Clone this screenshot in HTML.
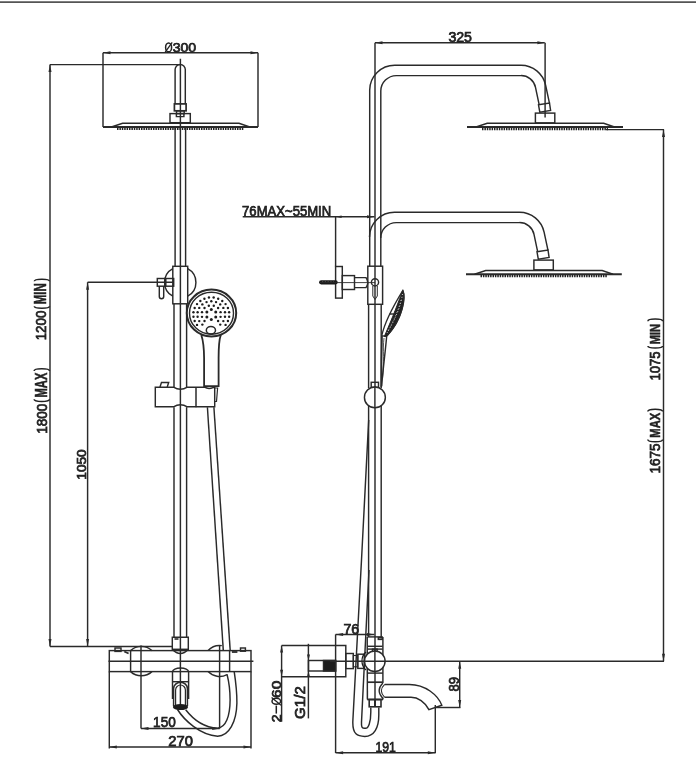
<!DOCTYPE html>
<html><head><meta charset="utf-8"><style>
html,body{margin:0;padding:0;background:#fff;}
svg{display:block;will-change:transform;}
text{font-family:"Liberation Sans",sans-serif;fill:#222;stroke:#222;stroke-width:0.75px;}
</style></head><body>
<svg width="696" height="774" viewBox="0 0 696 774">
<rect width="696" height="774" fill="#fff"/>
<line x1="0" y1="2.1" x2="696" y2="2.1" stroke="#555" stroke-width="1.6"/>
<line x1="103" y1="52.8" x2="103" y2="127" stroke="#2a2a2a" stroke-width="1.45"/>
<line x1="258" y1="52.8" x2="258" y2="127" stroke="#2a2a2a" stroke-width="1.45"/>
<line x1="103" y1="52.8" x2="258" y2="52.8" stroke="#2a2a2a" stroke-width="1.45"/>
<path d="M103.00,52.80 L110.50,51.30 L110.50,54.30 Z" fill="#2a2a2a" stroke="none"/>
<path d="M258.00,52.80 L250.50,54.30 L250.50,51.30 Z" fill="#2a2a2a" stroke="none"/>
<text x="172.70000000000002" y="51.949999999999996" font-size="13.41" textLength="23.499999999999982" lengthAdjust="spacingAndGlyphs">300</text>
<ellipse cx="168.6" cy="47.4" rx="3.0" ry="4.4" stroke="#222" stroke-width="1.5" fill="none"/>
<line x1="165.2" y1="52.2" x2="172.2" y2="42.4" stroke="#222" stroke-width="1.3"/>
<line x1="103" y1="127" x2="258" y2="127" stroke="#2a2a2a" stroke-width="2.0"/>
<path d="M111.4,127 L122.6,123.3 L239,123.3 L249.8,127" stroke="#2a2a2a" stroke-width="1.45" fill="none" />
<line x1="117" y1="128.9" x2="243.4" y2="128.9" stroke="#222" stroke-width="2.4" stroke-dasharray="1.5,0.9"/>
<path d="M175.1,104 L175.1,69.6 A5.1,5.1 0 0 1 185.3,69.6 L185.3,104" stroke="#2a2a2a" stroke-width="1.45" fill="none" />
<rect x="174.4" y="103.9" width="11.699999999999989" height="6.8999999999999915" stroke="#2a2a2a" stroke-width="1.7" fill="none"/>
<rect x="176.5" y="110.8" width="7.699999999999989" height="2.799999999999997" stroke="#2a2a2a" stroke-width="1.45" fill="none"/>
<path d="M176.4,113.7 L176.4,116.6 L183.9,116.6 L183.9,113.7" stroke="#2a2a2a" stroke-width="1.45" fill="none" />
<rect x="170" y="113.6" width="20.30000000000001" height="9.100000000000009" stroke="#2a2a2a" stroke-width="1.45" fill="none"/>
<line x1="180.4" y1="58.7" x2="180.4" y2="705" stroke="#2a2a2a" stroke-width="1.45"/>
<line x1="50" y1="64.6" x2="180" y2="64.6" stroke="#2a2a2a" stroke-width="1.45"/>
<line x1="50" y1="64.6" x2="50" y2="646.4" stroke="#2a2a2a" stroke-width="1.45"/>
<path d="M50.00,64.60 L51.50,72.10 L48.50,72.10 Z" fill="#2a2a2a" stroke="none"/>
<path d="M50.00,646.40 L48.50,638.90 L51.50,638.90 Z" fill="#2a2a2a" stroke="none"/>
<line x1="50" y1="646.5" x2="172.3" y2="646.5" stroke="#2a2a2a" stroke-width="1.45"/>
<text transform="translate(46.55,433.8) rotate(-90)" x="0" y="0" font-size="15.22" textLength="30.099999999999977" lengthAdjust="spacingAndGlyphs">1800</text>
<path d="M34.10,399.30 A7.70,2.25 0 0 0 49.50,399.30" stroke="#222" stroke-width="1.5" fill="none"/>
<text transform="translate(46.55,397.40000000000003) rotate(-90)" x="0" y="0" font-size="15.99" textLength="24.7" lengthAdjust="spacingAndGlyphs" style="stroke-width:0.5px;font-weight:bold">MAX</text>
<path d="M34.10,371.00 A7.70,2.15 0 0 1 49.50,371.00" stroke="#222" stroke-width="1.5" fill="none"/>
<text transform="translate(46.449999999999996,340.3) rotate(-90)" x="0" y="0" font-size="15.50" textLength="29.7" lengthAdjust="spacingAndGlyphs">1200</text>
<path d="M34.30,306.20 A7.60,1.95 0 0 0 49.50,306.20" stroke="#222" stroke-width="1.5" fill="none"/>
<text transform="translate(46.449999999999996,304.3) rotate(-90)" x="0" y="0" font-size="16.28" textLength="21.099999999999977" lengthAdjust="spacingAndGlyphs" style="stroke-width:0.5px;font-weight:bold">MIN</text>
<path d="M34.30,281.30 A7.60,2.15 0 0 1 49.50,281.30" stroke="#222" stroke-width="1.5" fill="none"/>
<line x1="87.6" y1="282.3" x2="173.5" y2="282.3" stroke="#2a2a2a" stroke-width="1.45"/>
<line x1="87.6" y1="282.2" x2="87.6" y2="646.4" stroke="#2a2a2a" stroke-width="1.45"/>
<path d="M87.60,282.20 L89.10,289.70 L86.10,289.70 Z" fill="#2a2a2a" stroke="none"/>
<path d="M87.60,646.40 L86.10,638.90 L89.10,638.90 Z" fill="#2a2a2a" stroke="none"/>
<text transform="translate(86.45,479.70000000000005) rotate(-90)" x="0" y="0" font-size="13.69" textLength="30.400000000000045" lengthAdjust="spacingAndGlyphs">1050</text>
<line x1="175.1" y1="127" x2="175.1" y2="266.4" stroke="#2a2a2a" stroke-width="1.45"/>
<line x1="185.6" y1="127" x2="185.6" y2="266.4" stroke="#2a2a2a" stroke-width="1.45"/>
<line x1="174.0" y1="304" x2="174.0" y2="387" stroke="#2a2a2a" stroke-width="1.45"/>
<line x1="174.0" y1="407.2" x2="174.0" y2="637.2" stroke="#2a2a2a" stroke-width="1.45"/>
<line x1="186.6" y1="304" x2="186.6" y2="387" stroke="#2a2a2a" stroke-width="1.45"/>
<line x1="186.6" y1="407.2" x2="186.6" y2="637.2" stroke="#2a2a2a" stroke-width="1.45"/>
<path d="M172.8,268.6 A15.7,15.7 0 0 0 172.8,296.2" stroke="#2a2a2a" stroke-width="1.45" fill="none" />
<path d="M187.7,268.6 A15.7,15.7 0 0 1 187.7,296.2" stroke="#2a2a2a" stroke-width="1.45" fill="none" />
<rect x="172.8" y="266.3" width="14.899999999999977" height="37.5" stroke="#2a2a2a" stroke-width="1.45" fill="none"/>
<rect x="157.3" y="278.5" width="8.099999999999994" height="7.699999999999989" stroke="#2a2a2a" stroke-width="1.45" fill="none"/>
<rect x="165.4" y="278.5" width="8.299999999999983" height="7.699999999999989" stroke="#2a2a2a" stroke-width="1.45" fill="none"/>
<line x1="165.4" y1="278.5" x2="165.4" y2="286.2" stroke="#2a2a2a" stroke-width="2.0"/>
<path d="M159.3,286.1 L159.3,296.5 A2.2,2.2 0 0 0 163.7,296.5 L163.7,286.1" stroke="#2a2a2a" stroke-width="1.45" fill="none" />
<ellipse cx="211.5" cy="313" rx="24.7" ry="23.4" stroke="#2a2a2a" stroke-width="2.0" fill="#fff"/>
<ellipse cx="211.5" cy="313.2" rx="22.0" ry="21.0" stroke="#2a2a2a" stroke-width="1.4" fill="none"/>
<circle cx="211.30" cy="309.40" r="1.5" fill="#1c1c1c"/>
<circle cx="215.72" cy="311.95" r="1.5" fill="#1c1c1c"/>
<circle cx="215.72" cy="317.05" r="1.5" fill="#1c1c1c"/>
<circle cx="211.30" cy="319.60" r="1.5" fill="#1c1c1c"/>
<circle cx="206.88" cy="317.05" r="1.5" fill="#1c1c1c"/>
<circle cx="206.88" cy="311.95" r="1.5" fill="#1c1c1c"/>
<circle cx="213.78" cy="305.69" r="1.2" fill="#1c1c1c"/>
<circle cx="218.09" cy="308.05" r="1.2" fill="#1c1c1c"/>
<circle cx="220.57" cy="312.14" r="1.2" fill="#1c1c1c"/>
<circle cx="220.57" cy="316.86" r="1.2" fill="#1c1c1c"/>
<circle cx="218.09" cy="320.95" r="1.2" fill="#1c1c1c"/>
<circle cx="204.51" cy="320.95" r="1.2" fill="#1c1c1c"/>
<circle cx="202.03" cy="316.86" r="1.2" fill="#1c1c1c"/>
<circle cx="202.03" cy="312.14" r="1.2" fill="#1c1c1c"/>
<circle cx="204.51" cy="308.05" r="1.2" fill="#1c1c1c"/>
<circle cx="208.82" cy="305.69" r="1.2" fill="#1c1c1c"/>
<circle cx="211.30" cy="301.30" r="1.2" fill="#1c1c1c"/>
<circle cx="216.05" cy="302.09" r="1.2" fill="#1c1c1c"/>
<circle cx="220.23" cy="304.38" r="1.2" fill="#1c1c1c"/>
<circle cx="223.34" cy="307.90" r="1.2" fill="#1c1c1c"/>
<circle cx="224.99" cy="312.21" r="1.2" fill="#1c1c1c"/>
<circle cx="224.99" cy="316.79" r="1.2" fill="#1c1c1c"/>
<circle cx="223.34" cy="321.10" r="1.2" fill="#1c1c1c"/>
<circle cx="220.23" cy="324.62" r="1.2" fill="#1c1c1c"/>
<circle cx="202.37" cy="324.62" r="1.2" fill="#1c1c1c"/>
<circle cx="199.26" cy="321.10" r="1.2" fill="#1c1c1c"/>
<circle cx="197.61" cy="316.79" r="1.2" fill="#1c1c1c"/>
<circle cx="197.61" cy="312.21" r="1.2" fill="#1c1c1c"/>
<circle cx="199.26" cy="307.90" r="1.2" fill="#1c1c1c"/>
<circle cx="202.37" cy="304.38" r="1.2" fill="#1c1c1c"/>
<circle cx="206.55" cy="302.09" r="1.2" fill="#1c1c1c"/>
<circle cx="213.65" cy="297.55" r="1.2" fill="#1c1c1c"/>
<circle cx="218.19" cy="298.70" r="1.2" fill="#1c1c1c"/>
<circle cx="222.26" cy="300.93" r="1.2" fill="#1c1c1c"/>
<circle cx="225.58" cy="304.09" r="1.2" fill="#1c1c1c"/>
<circle cx="227.93" cy="307.96" r="1.2" fill="#1c1c1c"/>
<circle cx="229.15" cy="312.27" r="1.2" fill="#1c1c1c"/>
<circle cx="229.15" cy="316.73" r="1.2" fill="#1c1c1c"/>
<circle cx="227.93" cy="321.04" r="1.2" fill="#1c1c1c"/>
<circle cx="225.58" cy="324.91" r="1.2" fill="#1c1c1c"/>
<circle cx="197.02" cy="324.91" r="1.2" fill="#1c1c1c"/>
<circle cx="194.67" cy="321.04" r="1.2" fill="#1c1c1c"/>
<circle cx="193.45" cy="316.73" r="1.2" fill="#1c1c1c"/>
<circle cx="193.45" cy="312.27" r="1.2" fill="#1c1c1c"/>
<circle cx="194.67" cy="307.96" r="1.2" fill="#1c1c1c"/>
<circle cx="197.02" cy="304.09" r="1.2" fill="#1c1c1c"/>
<circle cx="200.34" cy="300.93" r="1.2" fill="#1c1c1c"/>
<circle cx="204.41" cy="298.70" r="1.2" fill="#1c1c1c"/>
<circle cx="208.95" cy="297.55" r="1.2" fill="#1c1c1c"/>
<ellipse cx="210.9" cy="330.2" rx="4.6" ry="3.8" stroke="#2a2a2a" stroke-width="1.5" fill="none"/>
<path d="M201.3,335 C203,340 204,348 204.1,358 L204.1,386.1 L218.6,386.1 L218.6,358 C218.6,348 219,340 220.8,335" stroke="#2a2a2a" stroke-width="1.8" fill="none" />
<path d="M155.3,387.2 L173.5,387.2 Q180.4,391.5 187.3,387.2 L204.5,387.2 Q208.5,389.5 213,387.6 L214.7,387.6 L214.7,406.8 L187.3,406.8 Q180.4,402.7 173.5,406.8 L155.3,406.8 Z" stroke="#2a2a2a" stroke-width="1.45" fill="none" />
<path d="M214.7,388 L217.6,388 L216.5,401.5 L214.7,401.5" stroke="#2a2a2a" stroke-width="1.2" fill="none" />
<line x1="196" y1="387" x2="196" y2="407.2" stroke="#2a2a2a" stroke-width="1.5"/>
<path d="M160,387 L161.5,382.4 L168.7,382.4 L167.2,387" stroke="#2a2a2a" stroke-width="1.45" fill="none" />
<path d="M207.4,407.2 L223.3,650.6" stroke="#2a2a2a" stroke-width="1.45" fill="none" />
<path d="M213.9,407.2 L230.2,650.6" stroke="#2a2a2a" stroke-width="1.45" fill="none" />
<path d="M172.3,637.2 L188.3,637.2 L188.3,649.5 Q180.4,657.5 172.3,649.5 Z" stroke="#2a2a2a" stroke-width="1.45" fill="none" />
<line x1="172.3" y1="649.3" x2="188.3" y2="649.3" stroke="#2a2a2a" stroke-width="1.45"/>
<path d="M174.5,639 L178.5,639" stroke="#2a2a2a" stroke-width="1.6" fill="none" />
<rect x="109.3" y="650.6" width="141.7" height="21.0" stroke="#2a2a2a" stroke-width="1.45" fill="none"/>
<line x1="108.5" y1="661.3" x2="253.4" y2="661.3" stroke="#2a2a2a" stroke-width="1.45"/>
<path d="M130.6,650.6 A15.6,15.6 0 0 1 151.9,650.6" stroke="#2a2a2a" stroke-width="1.45" fill="none" />
<path d="M130.6,671.6 A15.6,15.6 0 0 0 151.9,671.6" stroke="#2a2a2a" stroke-width="1.45" fill="none" />
<line x1="130.6" y1="650.6" x2="130.6" y2="671.6" stroke="#2a2a2a" stroke-width="1.45"/>
<path d="M208.1,650.6 A15.6,15.6 0 0 1 221.8,645.6" stroke="#2a2a2a" stroke-width="1.45" fill="none" />
<path d="M208.1,671.6 A15.6,15.6 0 0 0 227,674.6" stroke="#2a2a2a" stroke-width="1.45" fill="none" />
<line x1="229.6" y1="650.6" x2="229.6" y2="671.6" stroke="#2a2a2a" stroke-width="1.45"/>
<path d="M124.3,651.5 L128.6,653.5" stroke="#2a2a2a" stroke-width="1.8" fill="none" />
<path d="M231.9,652 L237.4,652" stroke="#2a2a2a" stroke-width="1.8" fill="none" />
<line x1="141" y1="645.6" x2="141" y2="728.5" stroke="#2a2a2a" stroke-width="1.45"/>
<line x1="219.6" y1="645.6" x2="219.6" y2="728.5" stroke="#2a2a2a" stroke-width="1.45"/>
<rect x="115" y="648" width="6" height="3.3999999999999773" stroke="#2a2a2a" stroke-width="1.45" fill="none"/>
<rect x="240.5" y="648" width="4.900000000000006" height="3.2000000000000455" stroke="#2a2a2a" stroke-width="1.45" fill="none"/>
<path d="M172.5,672 A8.05,4 0 0 1 188.6,672" stroke="#2a2a2a" stroke-width="1.45" fill="none" />
<path d="M172.5,671.6 L172.5,699 M188.6,671.6 L188.6,699" stroke="#2a2a2a" stroke-width="1.45" fill="none" />
<line x1="172.5" y1="681.7" x2="188.6" y2="681.7" stroke="#2a2a2a" stroke-width="1.45"/>
<path d="M173.6,706 L173.6,688.5 A6.9,6.2 0 0 1 187.4,688.5 L187.4,706" stroke="#2a2a2a" stroke-width="1.5" fill="none" />
<path d="M175.6,706 L175.6,690 A4.9,5 0 0 1 185.4,690 L185.4,706" stroke="#2a2a2a" stroke-width="1.2" fill="none" />
<ellipse cx="180.5" cy="707" rx="7.6" ry="3.1" fill="#1c1c1c"/>
<path d="M177.5,709.5 C184,720 200,735 217.6,736.2 C229,736 236.5,722 236.9,703 C237,690 235.5,680 234.2,671.6" stroke="#2a2a2a" stroke-width="1.45" fill="none" />
<path d="M185.7,709.8 C192,718 203,727.5 217.6,728.2 C226,727.5 230,716 230.1,700 C230.1,690 228.5,680 227,674.2" stroke="#2a2a2a" stroke-width="1.45" fill="none" />
<line x1="141" y1="728.5" x2="219.7" y2="728.5" stroke="#2a2a2a" stroke-width="1.45"/>
<path d="M141.00,728.50 L148.50,727.00 L148.50,730.00 Z" fill="#2a2a2a" stroke="none"/>
<path d="M219.70,728.50 L212.20,730.00 L212.20,727.00 Z" fill="#2a2a2a" stroke="none"/>
<text x="153.1" y="727.25" font-size="14.39" textLength="22.600000000000005" lengthAdjust="spacingAndGlyphs">150</text>
<line x1="109.3" y1="671.5" x2="109.3" y2="748.5" stroke="#2a2a2a" stroke-width="1.45"/>
<line x1="251" y1="671.5" x2="251" y2="748.5" stroke="#2a2a2a" stroke-width="1.45"/>
<line x1="109.3" y1="747" x2="251" y2="747" stroke="#2a2a2a" stroke-width="1.45"/>
<path d="M109.30,747.00 L116.80,745.50 L116.80,748.50 Z" fill="#2a2a2a" stroke="none"/>
<path d="M251.00,747.00 L243.50,748.50 L243.50,745.50 Z" fill="#2a2a2a" stroke="none"/>
<text x="168.3" y="745.65" font-size="13.97" textLength="24.600000000000005" lengthAdjust="spacingAndGlyphs">270</text>
<line x1="375" y1="42.8" x2="544.7" y2="42.8" stroke="#2a2a2a" stroke-width="1.45"/>
<path d="M375.00,42.80 L382.50,41.30 L382.50,44.30 Z" fill="#2a2a2a" stroke="none"/>
<path d="M544.90,42.80 L537.40,44.30 L537.40,41.30 Z" fill="#2a2a2a" stroke="none"/>
<text x="448.4" y="42.449999999999996" font-size="14.11" textLength="23.599999999999977" lengthAdjust="spacingAndGlyphs">325</text>
<line x1="375" y1="42.8" x2="375" y2="387" stroke="#2a2a2a" stroke-width="1.45"/>
<line x1="545.1" y1="42.8" x2="545.1" y2="117.4" stroke="#2a2a2a" stroke-width="1.45"/>
<path d="M369.7,266.2 L369.7,90 A25,25 0 0 1 394.7,65.2 L521,65.2 A25.2,25.2 0 0 1 545.6,85.2 L549.5,103.3" stroke="#2a2a2a" stroke-width="1.45" fill="none" />
<path d="M380.8,266.2 L380.8,91 A15.6,15.6 0 0 1 396.4,75.6 L521,75.6 A14.8,14.8 0 0 1 535.5,87.3 L539.2,104.8" stroke="#2a2a2a" stroke-width="1.45" fill="none" />
<path d="M538.5,104.8 L549.5,103 L550.6,110.5 L539.8,112.2 Z" stroke="#2a2a2a" stroke-width="1.45" fill="none" />
<rect x="535.4" y="113.1" width="19.399999999999977" height="9.800000000000011" stroke="#2a2a2a" stroke-width="1.45" fill="none"/>
<line x1="467" y1="127" x2="623" y2="127" stroke="#2a2a2a" stroke-width="2.0"/>
<path d="M476,127 L487.2,123.3 L603.7,123.3 L614.5,127" stroke="#2a2a2a" stroke-width="1.45" fill="none" />
<line x1="482" y1="129.0" x2="608" y2="129.0" stroke="#222" stroke-width="2.4" stroke-dasharray="1.5,0.9"/>
<line x1="606" y1="129.6" x2="664" y2="129.6" stroke="#2a2a2a" stroke-width="1.45"/>
<line x1="663.5" y1="129.6" x2="663.5" y2="661.2" stroke="#2a2a2a" stroke-width="1.45"/>
<path d="M663.50,129.60 L665.00,137.10 L662.00,137.10 Z" fill="#2a2a2a" stroke="none"/>
<path d="M663.50,661.20 L662.00,653.70 L665.00,653.70 Z" fill="#2a2a2a" stroke="none"/>
<text transform="translate(659.75,380.6) rotate(-90)" x="0" y="0" font-size="14.39" textLength="29.2" lengthAdjust="spacingAndGlyphs">1075</text>
<path d="M647.90,346.10 A7.35,1.95 0 0 0 662.60,346.10" stroke="#222" stroke-width="1.5" fill="none"/>
<text transform="translate(659.75,344.20000000000005) rotate(-90)" x="0" y="0" font-size="15.12" textLength="20.300000000000022" lengthAdjust="spacingAndGlyphs" style="stroke-width:0.5px;font-weight:bold">MIN</text>
<path d="M647.90,321.20 A7.35,2.15 0 0 1 662.60,321.20" stroke="#222" stroke-width="1.5" fill="none"/>
<text transform="translate(659.85,473.6) rotate(-90)" x="0" y="0" font-size="14.39" textLength="30.00000000000001" lengthAdjust="spacingAndGlyphs">1675</text>
<path d="M647.80,439.50 A7.40,2.25 0 0 0 662.60,439.50" stroke="#222" stroke-width="1.5" fill="none"/>
<text transform="translate(659.85,437.70000000000005) rotate(-90)" x="0" y="0" font-size="15.12" textLength="25.00000000000001" lengthAdjust="spacingAndGlyphs" style="stroke-width:0.5px;font-weight:bold">MAX</text>
<path d="M647.80,411.60 A7.40,2.45 0 0 1 662.60,411.60" stroke="#222" stroke-width="1.5" fill="none"/>
<path d="M369.5,237 A25,25 0 0 1 394.5,212.2 L519.5,212.2 A25.2,25.2 0 0 1 544.1,232.2 L548.0,250.3" stroke="#2a2a2a" stroke-width="1.45" fill="none" />
<path d="M380.7,238 A15.6,15.6 0 0 1 396.3,222.6 L519.5,222.6 A14.8,14.8 0 0 1 534.0,234.3 L537.7,251.8" stroke="#2a2a2a" stroke-width="1.45" fill="none" />
<path d="M537.0,251.8 L548.0,250 L549.1,257.5 L538.3,259.2 Z" stroke="#2a2a2a" stroke-width="1.45" fill="none" />
<rect x="533.9" y="260.1" width="19.399999999999977" height="9.799999999999955" stroke="#2a2a2a" stroke-width="1.45" fill="none"/>
<line x1="466" y1="274.2" x2="621.8" y2="274.2" stroke="#2a2a2a" stroke-width="2.0"/>
<path d="M474.5,274.2 L485.7,270.5 L602.2,270.5 L613.0,274.2" stroke="#2a2a2a" stroke-width="1.45" fill="none" />
<line x1="480.5" y1="276.0" x2="607" y2="276.0" stroke="#222" stroke-width="2.4" stroke-dasharray="1.5,0.9"/>
<text x="242.1" y="215.75" font-size="13.83" textLength="89.10000000000004" lengthAdjust="spacingAndGlyphs">76MAX~55MIN</text>
<line x1="242.7" y1="216.7" x2="374.5" y2="216.7" stroke="#2a2a2a" stroke-width="1.45"/>
<path d="M374.50,216.70 L367.00,218.20 L367.00,215.20 Z" fill="#2a2a2a" stroke="none"/>
<path d="M335.60,216.70 L341.60,215.50 L341.60,217.90 Z" fill="#2a2a2a" stroke="none"/>
<line x1="335.6" y1="216.7" x2="335.6" y2="266.5" stroke="#2a2a2a" stroke-width="1.45"/>
<rect x="335.6" y="266.5" width="6.699999999999989" height="31.600000000000023" stroke="#2a2a2a" stroke-width="1.45" fill="none"/>
<path d="M321.2,282.3 L335.6,282.3" stroke="#1a1a1a" stroke-width="4.3" stroke-linecap="round"/>
<path d="M322,281.6 L334,281.6" stroke="#666" stroke-width="0.6" stroke-dasharray="1.2,1.6"/>
<rect x="342.3" y="275.6" width="12.199999999999989" height="13.899999999999977" stroke="#2a2a2a" stroke-width="1.45" fill="none"/>
<path d="M354.5,277.6 L366,277.6 Q369.5,282.6 366,287.6 L354.5,287.6" stroke="#2a2a2a" stroke-width="1.45" fill="none" />
<line x1="319.8" y1="282.6" x2="375" y2="282.6" stroke="#2a2a2a" stroke-width="0.9"/>
<rect x="367.8" y="266.2" width="14.800000000000011" height="38.10000000000002" stroke="#2a2a2a" stroke-width="1.45" fill="none"/>
<circle cx="375" cy="282.3" r="3.6" stroke="#2a2a2a" stroke-width="1.45" fill="none"/>
<path d="M372.8,286 L372.8,296 L375,299.5 L377.3,296 L377.3,286" stroke="#2a2a2a" stroke-width="1.0" fill="none" />
<line x1="368.6" y1="304.3" x2="368.6" y2="388" stroke="#2a2a2a" stroke-width="1.45"/>
<line x1="368.6" y1="404" x2="368.6" y2="637" stroke="#2a2a2a" stroke-width="1.45"/>
<line x1="381.2" y1="304.3" x2="381.2" y2="388" stroke="#2a2a2a" stroke-width="1.45"/>
<line x1="381.2" y1="404" x2="381.2" y2="637" stroke="#2a2a2a" stroke-width="1.45"/>
<path d="M381.8,335.7 C384,325 389,313 402.9,290.4 C405.5,296 404,318 386.6,336.5 Z" stroke="#2a2a2a" stroke-width="1.3" fill="#fff" />
<path d="M402.4,291 C399,300 395,312 384.3,336.5 L386.6,336.5 C404,318 405.5,296 402.9,290.4 Z" stroke="#2a2a2a" stroke-width="1.0" fill="#222" />
<path d="M402.5,294 C401,305 396,318 387,333" stroke="#fff" stroke-width="1.0" fill="none" stroke-dasharray="0.8,2.2"/>
<path d="M401,300 C399,309 394,320 386.5,334" stroke="#fff" stroke-width="0.8" fill="none" stroke-dasharray="0.7,2.5"/>
<line x1="389.5" y1="314" x2="395" y2="314" stroke="#2a2a2a" stroke-width="1.45"/>
<path d="M382,336 C381.6,350 381.3,370 381.3,387" stroke="#2a2a2a" stroke-width="1.7" fill="none" />
<path d="M386.6,337 C385.5,350 383.5,365 381.6,386" stroke="#2a2a2a" stroke-width="1.45" fill="none" />
<path d="M384,338 C382.5,350 384.5,362 382.5,378" stroke="#2a2a2a" stroke-width="0.8" fill="none" />
<rect x="371.2" y="382.3" width="7.300000000000011" height="5.099999999999966" stroke="#2a2a2a" stroke-width="1.45" fill="none"/>
<circle cx="374.9" cy="397.4" r="10.45" stroke="#2a2a2a" stroke-width="1.45" fill="#fff"/>
<line x1="374.9" y1="386" x2="374.9" y2="408" stroke="#2a2a2a" stroke-width="1.45"/>
<line x1="375" y1="407.4" x2="375" y2="699" stroke="#2a2a2a" stroke-width="1.45"/>
<path d="M368.7,420 L361.5,560 L352.9,720 C352,735 358,736.4 364.8,736.4 C374,736.4 378.8,728 378.8,715 L378.8,707.4" stroke="#2a2a2a" stroke-width="1.45" fill="none" />
<path d="M369,570 L366,631 L361.5,722 C361.3,727 362,728.3 364,728.3 L365.5,728.3 C368.5,728.3 370.8,722 370.8,712 L370.8,707.4" stroke="#2a2a2a" stroke-width="1.45" fill="none" />
<line x1="335.6" y1="634.4" x2="374.4" y2="634.4" stroke="#2a2a2a" stroke-width="1.45"/>
<path d="M335.60,634.40 L343.10,632.90 L343.10,635.90 Z" fill="#2a2a2a" stroke="none"/>
<path d="M374.40,634.40 L366.90,635.90 L366.90,632.90 Z" fill="#2a2a2a" stroke="none"/>
<text x="343.5" y="633.65" font-size="14.11" textLength="15.7" lengthAdjust="spacingAndGlyphs">76</text>
<line x1="335.6" y1="634.4" x2="335.6" y2="753" stroke="#2a2a2a" stroke-width="1.45"/>
<path d="M281.6,645.5 L345.8,645.5 L345.8,676.8 L281.6,676.8" stroke="#2a2a2a" stroke-width="1.45" fill="none" />
<line x1="281.6" y1="645.5" x2="281.6" y2="721.7" stroke="#2a2a2a" stroke-width="1.45"/>
<path d="M281.60,645.50 L283.10,652.50 L280.10,652.50 Z" fill="#2a2a2a" stroke="none"/>
<path d="M281.60,676.80 L280.10,669.80 L283.10,669.80 Z" fill="#2a2a2a" stroke="none"/>
<line x1="308.4" y1="643.8" x2="308.4" y2="718.4" stroke="#2a2a2a" stroke-width="1.45"/>
<path d="M308.50,660.50 L307.00,654.50 L310.00,654.50 Z" fill="#2a2a2a" stroke="none"/>
<path d="M308.50,671.00 L310.00,677.00 L307.00,677.00 Z" fill="#2a2a2a" stroke="none"/>
<rect x="308.5" y="660.5" width="27.100000000000023" height="10.5" stroke="#2a2a2a" stroke-width="1.45" fill="none"/>
<rect x="323.5" y="660.5" width="12.100000000000023" height="10.5" stroke="#2a2a2a" stroke-width="1.45" fill="#1c1c1c"/>
<text transform="translate(280.84999999999997,697.9) rotate(-90)" x="0" y="0" font-size="13.13" textLength="17.099999999999977" lengthAdjust="spacingAndGlyphs">60</text>
<ellipse cx="276.3" cy="701.3" rx="4.3" ry="3.0" stroke="#222" stroke-width="1.5" fill="none"/>
<line x1="281" y1="705.2" x2="271.6" y2="697.6" stroke="#222" stroke-width="1.3"/>
<line x1="276.3" y1="705.6" x2="276.3" y2="713.6" stroke="#222" stroke-width="1.5"/>
<text transform="translate(280.84999999999997,722.2) rotate(-90)" x="0" y="0" font-size="13.13" textLength="7.800000000000023" lengthAdjust="spacingAndGlyphs">2</text>
<text transform="translate(304.95,718.9) rotate(-90)" x="0" y="0" font-size="14.94" textLength="32.7" lengthAdjust="spacingAndGlyphs">G1/2</text>
<rect x="345.8" y="653.5" width="7.5" height="15.100000000000023" stroke="#2a2a2a" stroke-width="1.45" fill="none"/>
<rect x="353.3" y="655.5" width="4.5" height="11.299999999999955" stroke="#2a2a2a" stroke-width="1.1" fill="none"/>
<rect x="357.8" y="654.2" width="6.5" height="14.199999999999932" stroke="#2a2a2a" stroke-width="1.45" fill="none"/>
<line x1="367.2" y1="636.9" x2="367.4" y2="699.5" stroke="#2a2a2a" stroke-width="1.45"/>
<line x1="382.9" y1="636.9" x2="382.9" y2="683" stroke="#2a2a2a" stroke-width="1.45"/>
<line x1="367.4" y1="636.9" x2="382.8" y2="636.9" stroke="#2a2a2a" stroke-width="1.45"/>
<line x1="382.9" y1="697.5" x2="382.9" y2="699.5" stroke="#2a2a2a" stroke-width="1.45"/>
<line x1="367.4" y1="646.3" x2="382.6" y2="646.3" stroke="#2a2a2a" stroke-width="1.45"/>
<line x1="367.4" y1="649.1" x2="382.6" y2="649.1" stroke="#2a2a2a" stroke-width="1.45"/>
<rect x="372.5" y="649.1" width="4.600000000000023" height="2.8999999999999773" stroke="#2a2a2a" stroke-width="1.45" fill="none"/>
<line x1="367.4" y1="673.1" x2="382.8" y2="673.1" stroke="#2a2a2a" stroke-width="1.45"/>
<line x1="367.4" y1="682.2" x2="382.8" y2="682.2" stroke="#2a2a2a" stroke-width="1.7"/>
<line x1="367.2" y1="699.5" x2="383" y2="699.5" stroke="#2a2a2a" stroke-width="1.7"/>
<rect x="378.3" y="637.6" width="4.0" height="1.7999999999999545" stroke="#2a2a2a" stroke-width="1.45" fill="none"/>
<circle cx="374.8" cy="661.2" r="10.3" stroke="#2a2a2a" stroke-width="1.45" fill="#fff"/>
<line x1="374.9" y1="650" x2="374.9" y2="672" stroke="#2a2a2a" stroke-width="1.45"/>
<path d="M366,652 A12,12 0 0 0 366,670" stroke="#1c1c1c" stroke-width="1.2" fill="none"/>
<line x1="330" y1="661.2" x2="664" y2="661.2" stroke="#2a2a2a" stroke-width="1.45"/>
<rect x="369.2" y="699.5" width="11.800000000000011" height="7.2999999999999545" stroke="#2a2a2a" stroke-width="1.6" fill="none"/>
<line x1="375" y1="699.5" x2="375" y2="706.8" stroke="#2a2a2a" stroke-width="2.0"/>
<path d="M384.7,684.4 L409.5,684.4 C425,684.4 438,695 441.8,705.3 L428.9,709.6 C425,702 418,697.3 411,697.3 L384.7,697.3" stroke="#2a2a2a" stroke-width="1.45" fill="none" />
<path d="M382.9,683 Q375.5,690.5 382.9,698.5" stroke="#2a2a2a" stroke-width="1.3" fill="none" />
<path d="M384.7,684.4 Q378,690.5 384.7,697.3" stroke="#2a2a2a" stroke-width="1.1" fill="none" />
<line x1="436" y1="707.5" x2="460.5" y2="707.5" stroke="#2a2a2a" stroke-width="1.45"/>
<line x1="459.7" y1="661.2" x2="459.7" y2="707.5" stroke="#2a2a2a" stroke-width="1.45"/>
<path d="M459.70,661.20 L461.20,668.70 L458.20,668.70 Z" fill="#2a2a2a" stroke="none"/>
<path d="M459.70,707.50 L458.20,700.00 L461.20,700.00 Z" fill="#2a2a2a" stroke="none"/>
<text transform="translate(459.34999999999997,691.5) rotate(-90)" x="0" y="0" font-size="14.25" textLength="14.499999999999954" lengthAdjust="spacingAndGlyphs">89</text>
<line x1="435.3" y1="705" x2="435.3" y2="753.2" stroke="#2a2a2a" stroke-width="1.45"/>
<line x1="335.6" y1="752.8" x2="435.3" y2="752.8" stroke="#2a2a2a" stroke-width="1.45"/>
<path d="M335.60,752.80 L343.10,751.30 L343.10,754.30 Z" fill="#2a2a2a" stroke="none"/>
<path d="M435.30,752.80 L427.80,754.30 L427.80,751.30 Z" fill="#2a2a2a" stroke="none"/>
<text x="375.59999999999997" y="752.05" font-size="13.83" textLength="20.300000000000022" lengthAdjust="spacingAndGlyphs">191</text>
</svg>
</body></html>
